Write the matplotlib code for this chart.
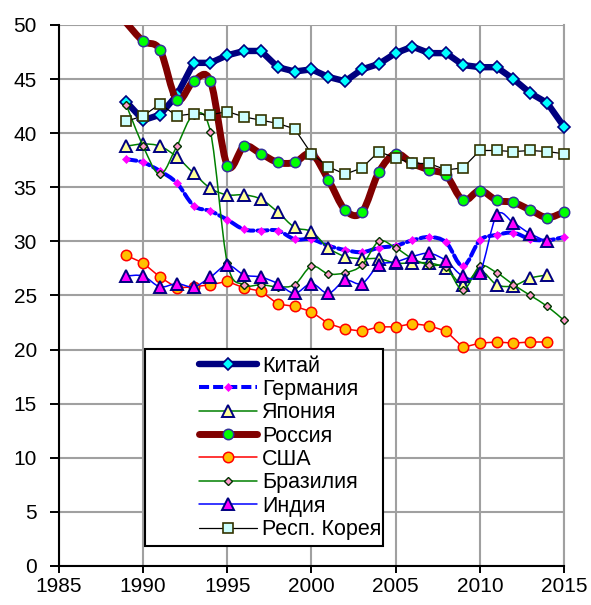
import numpy as np
import matplotlib
matplotlib.use("Agg")
import matplotlib.pyplot as plt
from matplotlib.path import Path
from matplotlib.patches import PathPatch, Rectangle
from matplotlib.lines import Line2D

plt.rcParams['font.family'] = ['Liberation Sans', 'DejaVu Sans']

years = list(range(1989, 2016))
nan = np.nan

china = [42.9, 41.2, 41.7, 43.5, 46.5, 46.5, 47.2, 47.6, 47.6, 46.1, 45.7, 45.9, 45.2, 44.8,
         45.9, 46.4, 47.4, 48.0, 47.4, 47.4, 46.3, 46.1, 46.1, 45.0, 43.7, 42.8, 40.6]
germany = [37.6, 37.3, 36.5, 35.4, 33.3, 32.8, 32.0, 31.1, 31.0, 31.0, 30.2, 30.2, 29.6, 29.2,
           29.0, 29.4, 29.6, 30.1, 30.4, 29.9, 27.7, 30.1, 30.6, 30.8, 30.2, 30.1, 30.4]
japan = [38.8, 39.0, 38.8, 37.8, 36.3, 34.9, 34.3, 34.3, 33.9, 32.7, 31.3, 30.9, 29.4, 28.6,
         28.4, 28.4, 28.0, 28.0, 28.0, 27.5, 26.0, 27.3, 26.0, 25.9, 26.6, 26.9, nan]
russia = [50.2, 48.5, 47.7, 43.1, 44.8, 44.8, 37.0, 38.8, 38.1, 37.3, 37.3, 38.1, 35.7, 32.9,
          32.7, 36.4, 38.1, 37.2, 36.6, 36.1, 33.8, 34.7, 33.8, 33.6, 32.9, 32.2, 32.7]
usa = [28.7, 28.0, 26.7, 25.7, 25.8, 26.0, 26.3, 25.7, 25.4, 24.2, 24.0, 23.5, 22.4, 21.9,
       21.7, 22.1, 22.1, 22.4, 22.2, 21.7, 20.2, 20.6, 20.7, 20.6, 20.7, 20.7, nan]
brazil = [42.6, 38.8, 36.2, 38.8, 41.7, 40.1, 28.0, 26.0, 26.0, 25.8, 26.0, 27.7, 27.0, 27.1,
          27.8, 30.0, 29.4, 28.4, 27.8, 27.6, 25.5, 27.7, 27.1, 26.0, 25.0, 24.0, 22.7]
india = [26.8, 26.8, 25.8, 26.1, 25.8, 26.7, 27.8, 26.9, 26.7, 26.1, 25.2, 26.1, 25.2, 26.4,
         26.1, 27.8, 28.1, 28.6, 28.9, 28.2, 26.8, 27.1, 32.4, 31.7, 30.7, 30.0, nan]
korea = [41.1, 41.6, 42.7, 41.6, 41.8, 41.7, 42.0, 41.5, 41.2, 40.9, 40.4, 38.1, 36.9, 36.2,
         36.8, 38.3, 37.7, 37.2, 37.2, 36.6, 36.8, 38.4, 38.4, 38.3, 38.4, 38.3, 38.1]

labels = ['Китай', 'Германия', 'Япония', 'Россия', 'США', 'Бразилия', 'Индия', 'Респ. Корея']
xticks = [1985, 1990, 1995, 2000, 2005, 2010, 2015]
yticks = [0, 5, 10, 15, 20, 25, 30, 35, 40, 45, 50]

styles = [
    dict(data=china, color='#000080', lw=4.6, ls='-', smooth=False, marker='D', ms=6.2,
         mfc='#00FFFF', mec='#000080', mew=1.2, skip=0),
    dict(data=germany, color='#0000FF', lw=2.9, ls=(0, (2.5, 1.0)), smooth=True, marker='D', ms=4.2,
         mfc='#FF00FF', mec='#FF00FF', mew=0.5, skip=0),
    dict(data=japan, color='#008000', lw=1.1, ls='-', smooth=True, marker='^', ms=8.0,
         mfc='#FFFF99', mec='#000080', mew=1.4, skip=0),
    dict(data=russia, color='#800000', lw=5.0, ls='-', smooth=True, marker='o', ms=7.5,
         mfc='#00FF00', mec='#333399', mew=1.1, skip=1),
    dict(data=usa, color='#FF0000', lw=1.1, ls='-', smooth=False, marker='o', ms=7.5,
         mfc='#FFC000', mec='#FF0000', mew=1.1, skip=0),
    dict(data=brazil, color='#008000', lw=1.1, ls='-', smooth=True, marker='D', ms=4.2,
         mfc='#FF99CC', mec='#003300', mew=1.0, skip=0),
    dict(data=india, color='#0000FF', lw=1.1, ls='-', smooth=True, marker='^', ms=8.0,
         mfc='#FF00FF', mec='#000080', mew=1.4, skip=0),
    dict(data=korea, color='#000000', lw=0.9, ls='-', smooth=False, marker='s', ms=7.0,
         mfc='#CCFFFF', mec='#333300', mew=1.2, skip=0),
]


def smooth_path(x, y):
    pts = np.column_stack([x, y])
    n = len(pts)
    verts = [pts[0]]
    codes = [Path.MOVETO]
    for i in range(n - 1):
        p0 = pts[i - 1] if i > 0 else pts[i]
        p1 = pts[i]
        p2 = pts[i + 1]
        p3 = pts[i + 2] if i + 2 < n else pts[i + 1]
        c1 = p1 + (p2 - p0) / 6.0
        c2 = p2 - (p3 - p1) / 6.0
        verts += [c1, c2, p2]
        codes += [Path.CURVE4] * 3
    return Path(np.array(verts), codes)


fig = plt.figure(figsize=(5.91, 6.05), dpi=100)
ax = fig.add_axes([0.0998, 0.0645, 0.8545, 0.8942])
ax.set_xlim(1985, 2015)
ax.set_ylim(0, 50)

handles = []
for i, st in enumerate(styles):
    y = np.array(st['data'], dtype=float)
    x = np.array(years, dtype=float)
    ok = ~np.isnan(y)
    x, y = x[ok], y[ok]
    z = 3 + i * 0.1
    if st['smooth']:
        patch = PathPatch(smooth_path(x, y), fill=False, edgecolor=st['color'], lw=st['lw'],
                          linestyle=st['ls'], capstyle='round', joinstyle='round', zorder=z)
        ax.add_patch(patch)
    else:
        ax.plot(x, y, color=st['color'], lw=st['lw'], ls=st['ls'], solid_joinstyle='round',
                solid_capstyle='round', zorder=z)
    s = st['skip']
    ax.plot(x[s:], y[s:], ls='none', marker=st['marker'], ms=st['ms'], mfc=st['mfc'],
            mec=st['mec'], mew=st['mew'], zorder=z + 0.05, clip_on=False)
    handles.append(Line2D([], [], color=st['color'], lw=st['lw'], ls=st['ls'],
                          marker=st['marker'], ms=st['ms'], mfc=st['mfc'], mec=st['mec'],
                          mew=st['mew'], solid_capstyle='round'))

ax.set_xticks(xticks)
ax.set_yticks(yticks)
ax.set_xticklabels([str(v) for v in xticks])
ax.set_yticklabels([str(v) for v in yticks])
ax.tick_params(axis='both', labelsize=15, colors='black', width=1.4)
ax.tick_params(axis='y', length=6.5, pad=9.5, direction='out')
ax.tick_params(axis='x', length=5.2, pad=2.5, direction='out')
ax.grid(True, color='#A0A0A0', lw=1.5, zorder=0)
ax.set_axisbelow(True)
ax.spines['top'].set_visible(False)
ax.spines['right'].set_color('#A0A0A0')
ax.spines['right'].set_linewidth(1.5)
ax.spines['left'].set_linewidth(1.5)
ax.spines['bottom'].set_linewidth(1.5)
ax.spines['left'].set_zorder(2.5)
ax.spines['bottom'].set_zorder(2.5)

rect = Rectangle((0.1703, 0.037), 0.4713, 0.364, transform=ax.transAxes, facecolor='white',
                 edgecolor='black', lw=1.5, zorder=10, clip_on=False)
ax.add_patch(rect)

leg = ax.legend(handles, labels, loc='upper left', bbox_to_anchor=(0.2772, 0.389),
                frameon=False, fontsize=15.5, handlelength=2.7, handletextpad=0.23,
                labelspacing=0.11, borderpad=0.0, borderaxespad=0.0)
leg.set_zorder(11)

fig.savefig('out.png', dpi=100)
